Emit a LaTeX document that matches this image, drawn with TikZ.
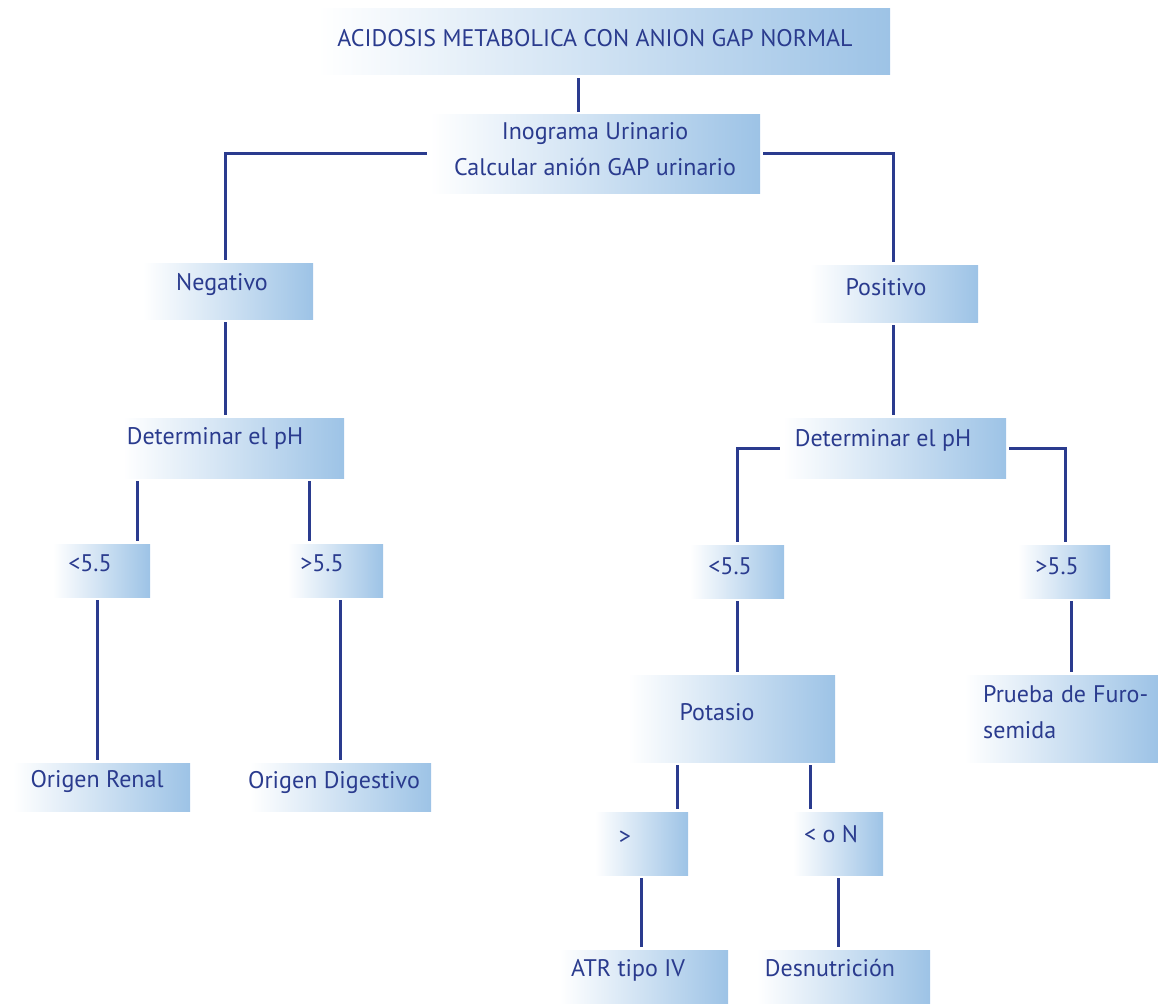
\documentclass[tikz,border=0pt]{standalone}
\usepackage{fontspec}
\setmainfont{PT Sans}
\usetikzlibrary{fit}
\definecolor{boxblue}{HTML}{9DC3E6}
\definecolor{inkblue}{HTML}{2A3B8E}

\begin{document}
\begin{tikzpicture}[x=1pt,y=-1pt,
    box/.style={inner sep=0pt,left color=white,right color=boxblue},
    lbl/.style={inner sep=0pt,text=inkblue,font=\fontsize{24}{36}\selectfont},
    link/.style={draw=inkblue,line width=3pt,shorten <=3pt,shorten >=3pt}]
    \useasboundingbox (0,0) rectangle (1158,1003);
    % boxes
    \foreach \n/\a/\b/\c/\d in {top/318/9/890/75, ino/430/115/760/193,
      neg/143/263/313/319, pos/810/265/978/322,
      dphl/123/418/344/478, dphr/783/418/1006/478,
      ltl/53/544/150/597, gtl/288/544/383/597,
      ltr/690/545/784/598, gtr/1018/545/1110/598,
      ren/13/763/190/811, dig/250/763/431/811,
      pot/628/675/835/762, fur/965/675/1158/762,
      gtk/595/812/688/875, ltk/793/812/883/875,
      atr/560/950/728/1003, des/757/950/930/1003}{
      \node[box,fit={(\a,\b) (\c,\d)}] (\n) {};
    }
    % labels
    \foreach \n/\x/\y/\t in {top/595/38/{ACIDOSIS METABOLICA CON ANION GAP NORMAL},
      neg/222/285/Negativo, pos/886/287/Positivo,
      dphl/215/438/{Determinar el pH}, dphr/883/440/{Determinar el pH},
      ltl/90/563/{<5.5}, gtl/322/563/{>5.5}, ltr/730/566/{<5.5}, gtr/1057/566/{>5.5},
      ren/97/781/{Origen Renal}, dig/334/782/{Origen Digestivo},
      pot/717/712/Potasio, gtk/625/838/{>}, ltk/831/834/{< o N},
      atr/628/970/{ATR tipo IV}, des/830/968/{Desnutrición}}{
      \node[lbl] (\n-t) at (\x,\y) {\t};
    }
    \node[lbl,align=center] (ino-t) at (595,149) {Inograma Urinario\\Calcular anión GAP urinario};
    \node[lbl,align=left,anchor=west] (fur-t) at (983,712) {\makebox[165pt][s]{Prueba de Furo-}\\semida};
    % connectors
    \begin{scope}[link]
      \draw (578,0 |- top.south) -- (578,0 |- ino.north);
      \draw (ino.west |- 0,154) -| (225,0 |- neg.north);
      \draw (ino.east |- 0,154) -| (893,0 |- pos.north);
      \draw (225,0 |- neg.south) -- (225,0 |- dphl.north);
      \draw (893,0 |- pos.south) -- (893,0 |- dphr.north);
      \draw (137,0 |- dphl.south) -- (137,0 |- ltl.north);
      \draw (309,0 |- dphl.south) -- (309,0 |- gtl.north);
      \draw (dphr.west |- 0,448) -| (737,0 |- ltr.north);
      \draw (dphr.east |- 0,448) -| (1065,0 |- gtr.north);
      \draw (97,0 |- ltl.south) -- (97,0 |- ren.north);
      \draw (340,0 |- gtl.south) -- (340,0 |- dig.north);
      \draw (737,0 |- ltr.south) -- (737,0 |- pot.north);
      \draw (1071,0 |- gtr.south) -- (1071,0 |- fur.north);
      \draw (677,0 |- pot.south) -- (677,0 |- gtk.north);
      \draw (810,0 |- pot.south) -- (810,0 |- ltk.north);
      \draw (641,0 |- gtk.south) -- (641,0 |- atr.north);
      \draw (838,0 |- ltk.south) -- (838,0 |- des.north);
    \end{scope}
\end{tikzpicture}
\end{document}
